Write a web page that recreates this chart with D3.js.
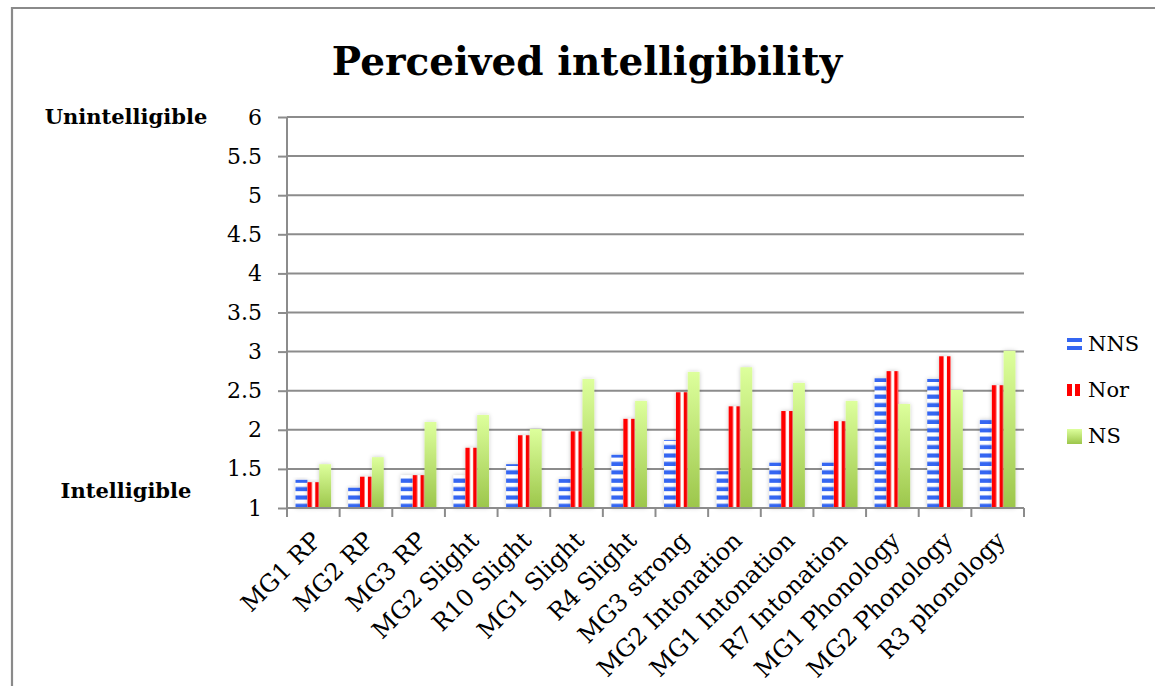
<!DOCTYPE html>
<html>
<head>
<meta charset="utf-8">
<script src="https://cdn.jsdelivr.net/npm/d3@7"></script>
<style>
  html, body { margin: 0; padding: 0; background: #fff; }
  svg { display: block; }
  text { font-family: "DejaVu Serif", serif; fill: #000; }
</style>
</head>
<body>
<svg id="chart" width="1155" height="686"></svg>
<script>
// Perceived intelligibility ratings per speech sample and listener group
const categories = ["MG1 RP", "MG2 RP", "MG3 RP", "MG2 Slight", "R10 Slight", "MG1 Slight",
  "R4 Slight", "MG3 strong", "MG2 Intonation", "MG1 Intonation", "R7 Intonation",
  "MG1 Phonology", "MG2 Phonology", "R3 phonology"];
const seriesNames = ["NNS", "Nor", "NS"];
const nnsValues = [1.36, 1.26, 1.42, 1.42, 1.56, 1.37, 1.68, 1.87, 1.47, 1.58, 1.58, 2.66, 2.65, 2.13];
const norValues = [1.33, 1.40, 1.42, 1.77, 1.93, 1.98, 2.14, 2.48, 2.30, 2.24, 2.11, 2.75, 2.94, 2.57];
const nsValues  = [1.56, 1.65, 2.10, 2.19, 2.01, 2.65, 2.37, 2.74, 2.80, 2.60, 2.37, 2.33, 2.51, 3.01];
const yTicks = [1, 1.5, 2, 2.5, 3, 3.5, 4, 4.5, 5, 5.5, 6];
const yTickLabels = ["1", "1.5", "2", "2.5", "3", "3.5", "4", "4.5", "5", "5.5", "6"];

const svg = d3.select("#chart");
const plot = { left: 287, right: 1024, top: 117, bottom: 508 };

const x = d3.scaleBand().domain(categories).range([plot.left, plot.right]).paddingInner(0).paddingOuter(0);
const xs = d3.scaleBand().domain(seriesNames).range([0, x.bandwidth()]).paddingInner(0).paddingOuter(0.72);
const y = d3.scaleLinear().domain([1, 6]).range([plot.bottom, plot.top]);

const defs = svg.append("defs");

// horizontal blue stripes, phased from the baseline
const stripe = 8.4;
const pNNS = defs.append("pattern").attr("id", "pNNS")
  .attr("patternUnits", "userSpaceOnUse").attr("x", 0).attr("y", y(1))
  .attr("width", 20).attr("height", stripe);
pNNS.append("rect").attr("width", 20).attr("height", stripe).attr("fill", "#ffffff");
pNNS.append("rect").attr("y", stripe / 2).attr("width", 20).attr("height", stripe / 2).attr("fill", "#3466f2");

// two red vertical stripes per bar
const pNor = defs.append("pattern").attr("id", "pNor")
  .attr("patternUnits", "objectBoundingBox").attr("patternContentUnits", "objectBoundingBox")
  .attr("width", 1).attr("height", 1);
pNor.append("rect").attr("width", 1).attr("height", 1).attr("fill", "#ffffff");
pNor.append("rect").attr("x", 0).attr("width", 0.38).attr("height", 1).attr("fill", "#ff0000");
pNor.append("rect").attr("x", 0.66).attr("width", 0.3).attr("height", 1).attr("fill", "#ff0000");

// green vertical gradient
const gNS = defs.append("linearGradient").attr("id", "gNS")
  .attr("x1", 0).attr("y1", 0).attr("x2", 0).attr("y2", 1);
gNS.append("stop").attr("offset", "0%").attr("stop-color", "#ddff9c");
gNS.append("stop").attr("offset", "100%").attr("stop-color", "#9cc64b");

const shadow = defs.append("filter").attr("id", "shadow")
  .attr("x", "-40%").attr("y", "-10%").attr("width", "180%").attr("height", "130%");
shadow.append("feDropShadow").attr("dx", 0).attr("dy", 0).attr("stdDeviation", 2.2)
  .attr("flood-color", "#000").attr("flood-opacity", 0.22);

const fills = { NNS: "url(#pNNS)", Nor: "url(#pNor)", NS: "url(#gNS)" };
const valuesBySeries = { NNS: nnsValues, Nor: norValues, NS: nsValues };

// outer frame
svg.append("path").attr("d", "M12,686 V8 H1155")
  .attr("fill", "none").attr("stroke", "#8a8a8a").attr("stroke-width", 2.2);

// title
svg.append("text").attr("x", 587).attr("y", 75).attr("text-anchor", "middle")
  .style("font-size", "39px").style("font-weight", "bold").text("Perceived intelligibility");

// gridlines
svg.append("g").selectAll("line").data(yTicks.slice(1)).join("line")
  .attr("x1", plot.left).attr("x2", plot.right)
  .attr("y1", d => y(d)).attr("y2", d => y(d))
  .attr("stroke", "#8c8c8c").attr("stroke-width", 2);

// y axis
const yAxis = d3.axisLeft(y).tickValues(yTicks)
  .tickFormat((d, i) => yTickLabels[i]).tickSize(9).tickPadding(16);
const gy = svg.append("g").attr("transform", `translate(${plot.left},0)`).call(yAxis);
gy.select(".domain").attr("stroke", "#8c8c8c").attr("stroke-width", 2).attr("d", `M0,${plot.top}V${plot.bottom}`);
gy.selectAll(".tick line").attr("stroke", "#8c8c8c").attr("stroke-width", 2);
gy.selectAll(".tick text").style("font-family", "'DejaVu Serif', serif").style("font-size", "22px").attr("fill", "#000");

// bars
const groups = svg.append("g").selectAll("g").data(categories).join("g")
  .attr("transform", d => `translate(${x(d)},0)`);
groups.selectAll("rect").data((d, i) => seriesNames.map(s => ({ s, v: valuesBySeries[s][i] }))).join("rect")
  .attr("x", d => xs(d.s))
  .attr("y", d => y(d.v))
  .attr("width", xs.bandwidth())
  .attr("height", d => y(1) - y(d.v))
  .attr("fill", d => fills[d.s])
  .attr("filter", "url(#shadow)");

// x axis
const xAxis = d3.axisBottom(x).tickSize(0).tickFormat(() => "");
const gx = svg.append("g").attr("transform", `translate(0,${plot.bottom})`).call(xAxis);
gx.select(".domain").attr("stroke", "#8c8c8c").attr("stroke-width", 2).attr("d", `M${plot.left},0H${plot.right}`);
gx.selectAll(".tick").remove();
// category boundary ticks
const edges = categories.map(c => x(c)).concat([plot.right]);
gx.append("g").selectAll("line").data(edges).join("line")
  .attr("x1", d => d).attr("x2", d => d).attr("y1", 0).attr("y2", 9)
  .attr("stroke", "#8c8c8c").attr("stroke-width", 2);

// rotated category labels
svg.append("g").selectAll("text").data(categories).join("text")
  .attr("transform", d => `translate(${x(d) + x.bandwidth() / 2 + 9},${plot.bottom + 34}) rotate(-45)`)
  .attr("text-anchor", "end")
  .style("font-size", "24px").text(d => d);

// scale end labels
svg.append("text").attr("x", 126).attr("y", y(6) + 7).attr("text-anchor", "middle")
  .style("font-size", "21px").style("font-weight", "bold").text("Unintelligible");
svg.append("text").attr("x", 126).attr("y", 498).attr("text-anchor", "middle")
  .style("font-size", "21px").style("font-weight", "bold").text("Intelligible");

// legend
const legend = svg.append("g").attr("transform", "translate(1067,0)");
const legendRows = [
  { s: "NNS", y: 344 },
  { s: "Nor", y: 390 },
  { s: "NS", y: 436 }
];
const lg = legend.selectAll("g").data(legendRows).join("g")
  .attr("transform", d => `translate(0,${d.y})`);
lg.each(function (d) {
  const g = d3.select(this);
  if (d.s === "NNS") {
    g.append("rect").attr("x", 0).attr("y", -6).attr("width", 15).attr("height", 4).attr("fill", "#3466f2");
    g.append("rect").attr("x", 0).attr("y", 2).attr("width", 15).attr("height", 4).attr("fill", "#3466f2");
  } else if (d.s === "Nor") {
    g.append("rect").attr("x", 0).attr("y", -6).attr("width", 5).attr("height", 12).attr("fill", "#ff0000");
    g.append("rect").attr("x", 8).attr("y", -6).attr("width", 5).attr("height", 12).attr("fill", "#ff0000");
  } else {
    g.append("rect").attr("x", 0).attr("y", -7).attr("width", 15).attr("height", 15).attr("fill", "url(#gNS)");
  }
  g.append("text").attr("x", 21).attr("dy", "0.35em").style("font-size", "21px").text(d.s);
});
</script>
</body>
</html>
